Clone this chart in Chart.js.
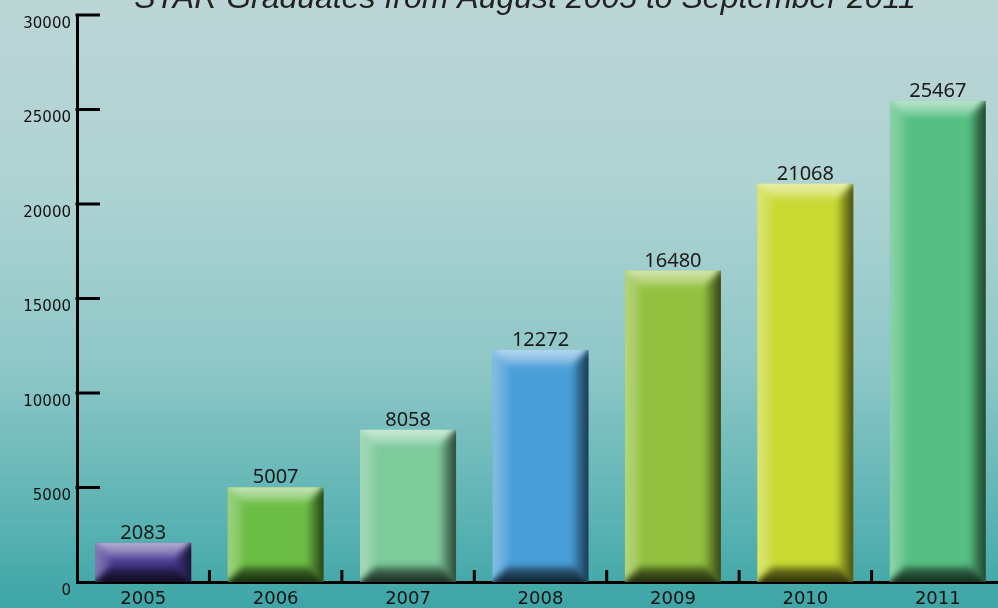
<!DOCTYPE html>
<html>
<head>
<meta charset="utf-8">
<script src="https://cdn.jsdelivr.net/npm/chart.js@4.4.1/dist/chart.umd.min.js"></script>
<style>
  html, body { margin: 0; padding: 0; overflow: hidden; background: #3fa6a6; }
  #wrap { width: 1005px; height: 608px; }
</style>
</head>
<body>
<div id="wrap"><canvas id="graduatesChart"></canvas></div>
<script>
// Veriler
const years = ["2005", "2006", "2007", "2008", "2009", "2010", "2011"];
const graduates = [2083, 5007, 8058, 12272, 16480, 21068, 25467];
const barColors = ["#4a3c94", "#6cbd45", "#7dca9b", "#4a9fd8", "#93c13f", "#c9d932", "#57bf83"];
const yTicks = [0, 5000, 10000, 15000, 20000, 25000, 30000];
const chartTitle = "STAR Graduates from August 2005 to September 2011";

// Arka plan gradyanı
const backgroundPlugin = {
    id: "background",
    beforeDraw(chart) {
        const ctx = chart.ctx;
        const g = ctx.createLinearGradient(0, 0, 0, chart.height);
        g.addColorStop(0, "#bcd5d6");
        g.addColorStop(0.3, "#afd3d3");
        g.addColorStop(0.6, "#8fc7c7");
        g.addColorStop(0.85, "#5cb3b3");
        g.addColorStop(1, "#3da5a6");
        ctx.save();
        ctx.fillStyle = g;
        ctx.fillRect(0, 0, chart.width, chart.height);
        ctx.restore();
    }
};

// Çubuklara kabartma efekti, değer etiketleri, içe dönük tikler ve başlık
const decorPlugin = {
    id: "decor",
    afterDatasetsDraw(chart) {
        const ctx = chart.ctx;
        const meta = chart.getDatasetMeta(0);
        meta.data.forEach((bar, i) => {
            const left = bar.x - bar.width / 2;
            const right = bar.x + bar.width / 2;
            const top = bar.y;
            const bottom = bar.base;
            const b = Math.min(15, (bottom - top) / 2);

            ctx.save();
            ctx.beginPath();
            ctx.rect(left, top, right - left, bottom - top);
            ctx.clip();
            ctx.filter = "blur(3px)";

            // üst kenar
            let g = ctx.createLinearGradient(0, top, 0, top + b);
            g.addColorStop(0, "rgba(255,255,255,0.6)");
            g.addColorStop(1, "rgba(255,255,255,0.2)");
            ctx.fillStyle = g;
            ctx.beginPath();
            ctx.moveTo(left - 6, top - 6); ctx.lineTo(right + 6, top - 6);
            ctx.lineTo(right - b, top + b); ctx.lineTo(left + b, top + b);
            ctx.closePath(); ctx.fill();

            // sol kenar
            g = ctx.createLinearGradient(left, 0, left + b, 0);
            g.addColorStop(0, "rgba(255,255,255,0.32)");
            g.addColorStop(1, "rgba(255,255,255,0.12)");
            ctx.fillStyle = g;
            ctx.beginPath();
            ctx.moveTo(left - 6, top - 6); ctx.lineTo(left + b, top + b);
            ctx.lineTo(left + b, bottom - b); ctx.lineTo(left - 6, bottom + 6);
            ctx.closePath(); ctx.fill();

            // sağ kenar
            g = ctx.createLinearGradient(right - b, 0, right, 0);
            g.addColorStop(0, "rgba(0,0,0,0.12)");
            g.addColorStop(1, "rgba(0,0,0,0.65)");
            ctx.fillStyle = g;
            ctx.beginPath();
            ctx.moveTo(right + 6, top - 6); ctx.lineTo(right + 6, bottom + 6);
            ctx.lineTo(right - b, bottom - b); ctx.lineTo(right - b, top + b);
            ctx.closePath(); ctx.fill();

            // alt kenar
            g = ctx.createLinearGradient(0, bottom - b, 0, bottom);
            g.addColorStop(0, "rgba(0,0,0,0.4)");
            g.addColorStop(1, "rgba(0,0,0,0.78)");
            ctx.fillStyle = g;
            ctx.beginPath();
            ctx.moveTo(left - 6, bottom + 6); ctx.lineTo(right + 6, bottom + 6);
            ctx.lineTo(right - b, bottom - b); ctx.lineTo(left + b, bottom - b);
            ctx.closePath(); ctx.fill();
            ctx.restore();

            // değer etiketi
            ctx.save();
            ctx.fillStyle = "#1a1a1a";
            ctx.font = "20px 'Noto Sans'";
            ctx.textAlign = "center";
            ctx.textBaseline = "alphabetic";
            ctx.fillText(String(graduates[i]), bar.x, top - 4);
            ctx.restore();
        });

        ctx.save();
        // içe dönük tikler
        const xs = chart.scales.x;
        const ys = chart.scales.y;
        ctx.strokeStyle = "#000";
        ctx.lineWidth = 3;
        ctx.beginPath();
        yTicks.forEach(v => {
            if (v === 0) return;
            const py = ys.getPixelForValue(v);
            ctx.moveTo(xs.left - 1.5, py); ctx.lineTo(xs.left + 23, py);
        });
        for (let i = 1; i < years.length; i++) {
            const px = (xs.getPixelForValue(i - 1) + xs.getPixelForValue(i)) / 2;
            ctx.moveTo(px, ys.bottom); ctx.lineTo(px, ys.bottom - 12);
        }
        ctx.stroke();

        // başlık (üstten kırpılmış)
        ctx.fillStyle = "#222";
        ctx.font = "italic 32px 'Liberation Sans'";
        ctx.textAlign = "center";
        ctx.textBaseline = "alphabetic";
        ctx.fillText(chartTitle, 525, 8);
        ctx.restore();
    }
};

new Chart(document.getElementById("graduatesChart"), {
    type: "bar",
    data: {
        labels: years,
        datasets: [{
            data: graduates,
            backgroundColor: barColors,
            borderWidth: 0,
            barPercentage: 0.725,
            categoryPercentage: 1,
        }]
    },
    options: {
        responsive: true,
        maintainAspectRatio: false,
        animation: false,
        layout: { padding: { top: 13, right: 1, left: 0, bottom: 0 } },
        plugins: {
            legend: { display: false },
            tooltip: { enabled: false },
        },
        scales: {
            x: {
                afterFit(scale) { scale.height = 26; },
                grid: { display: false, drawTicks: false },
                border: { display: true, color: "#000", width: 3 },
                ticks: {
                    padding: 7,
                    color: "#111",
                    font: { family: "DejaVu Sans", size: 18 },
                },
            },
            y: {
                min: 0,
                max: 30000,
                afterFit(scale) { scale.width = 77; },
                afterBuildTicks(scale) { scale.ticks = yTicks.map(v => ({ value: v })); },
                grid: { display: false, drawTicks: false },
                border: { display: true, color: "#000", width: 3 },
                ticks: {
                    padding: 6,
                    labelOffset: 9,
                    color: "#111",
                    font: { family: "DejaVu Sans", size: 15 },
                    callback: v => String(v),
                },
            },
        },
    },
    plugins: [backgroundPlugin, decorPlugin],
});
</script>
</body>
</html>
